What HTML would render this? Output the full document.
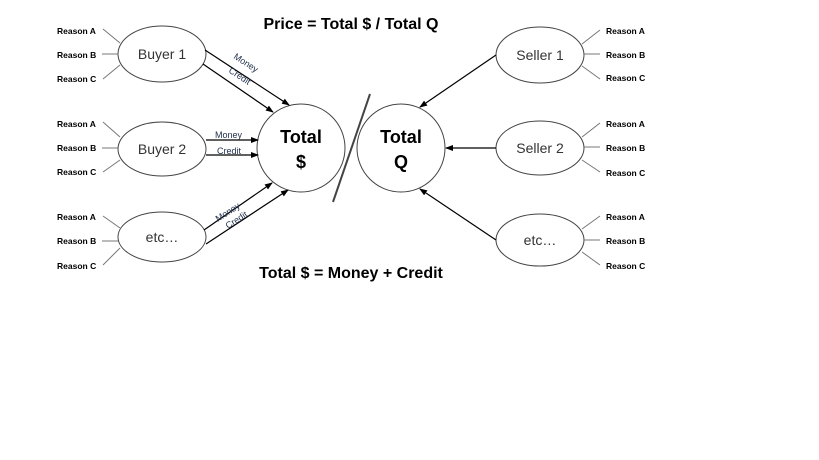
<!DOCTYPE html>
<html><head><meta charset="utf-8"><style>body{margin:0;background:#fff}svg{display:block}</style></head><body>
<svg width="819" height="460" xmlns="http://www.w3.org/2000/svg" font-family="Liberation Sans, sans-serif">
<defs><marker id="a" markerWidth="8" markerHeight="8" refX="7" refY="4" orient="auto" markerUnits="userSpaceOnUse"><path d="M0,1 L8,4 L0,7 z" fill="#000"/></marker></defs>
<rect width="819" height="460" fill="#fff"/>
<text x="351" y="29" font-size="16" font-weight="bold" text-anchor="middle">Price = Total $ / Total Q</text>
<text x="351" y="278" font-size="16" font-weight="bold" text-anchor="middle">Total $ = Money + Credit</text>
<g fill="none" stroke="#444" stroke-width="1">
<ellipse cx="162" cy="54" rx="44" ry="28"/><ellipse cx="162" cy="149" rx="44" ry="27"/><ellipse cx="162" cy="237" rx="44" ry="25"/>
<ellipse cx="540" cy="55" rx="44" ry="28"/><ellipse cx="540" cy="148" rx="44" ry="27"/><ellipse cx="540" cy="240" rx="44" ry="26"/>
<circle cx="301" cy="148" r="44"/><circle cx="401" cy="148" r="44"/>
</g>
<line x1="370" y1="94" x2="333" y2="202" stroke="#444" stroke-width="2"/>
<g stroke="#777" stroke-width="1">
<line x1="103" y1="29" x2="120" y2="43"/><line x1="102" y1="54" x2="118" y2="54"/><line x1="103" y1="79" x2="120" y2="65"/>
<line x1="103" y1="122" x2="120" y2="137"/><line x1="102" y1="148" x2="118" y2="148"/><line x1="103" y1="172" x2="120" y2="160"/>
<line x1="103" y1="216" x2="120" y2="228"/><line x1="102" y1="241" x2="118" y2="241"/><line x1="103" y1="265" x2="120" y2="248"/>
<line x1="600" y1="30" x2="582" y2="44"/><line x1="600" y1="54" x2="584" y2="54"/><line x1="600" y1="79" x2="582" y2="66"/>
<line x1="600" y1="123" x2="582" y2="137"/><line x1="600" y1="147" x2="584" y2="147"/><line x1="600" y1="172" x2="582" y2="160"/>
<line x1="600" y1="216" x2="582" y2="229"/><line x1="600" y1="240" x2="584" y2="240"/><line x1="600" y1="265" x2="582" y2="252"/>
</g>
<g stroke="#000" stroke-width="1.2" marker-end="url(#a)">
<line x1="205" y1="50" x2="289" y2="105"/><line x1="203" y1="64" x2="273" y2="112"/>
<line x1="206" y1="140" x2="258" y2="140"/><line x1="206" y1="155" x2="258" y2="155"/>
<line x1="204" y1="230" x2="272" y2="183"/><line x1="206" y1="244" x2="288" y2="190"/>
<line x1="496" y1="55" x2="420" y2="107"/><line x1="496" y1="148" x2="446" y2="148"/><line x1="496" y1="240" x2="420" y2="189"/>
</g>
<g font-size="9" fill="#1f2d4a">
<text transform="translate(233,58) rotate(33)">Money</text>
<text transform="translate(228,72) rotate(33)">Credit</text>
<text x="215" y="138">Money</text><text x="217" y="154">Credit</text>
<text transform="translate(218,222) rotate(-33)">Money</text>
<text transform="translate(228,229) rotate(-33)">Credit</text>
</g>
<g font-size="14" fill="#333" text-anchor="middle">
<text x="162" y="59">Buyer 1</text><text x="162" y="154">Buyer 2</text><text x="162" y="242">etc…</text>
<text x="540" y="60">Seller 1</text><text x="540" y="153">Seller 2</text><text x="540" y="245">etc…</text>
</g>
<g font-size="18" font-weight="bold" text-anchor="middle">
<text x="301" y="143">Total</text><text x="301" y="168">$</text>
<text x="401" y="143">Total</text><text x="401" y="168">Q</text>
</g>
<g font-size="8.5" font-weight="bold">
<text x="57" y="34">Reason A</text><text x="57" y="58">Reason B</text><text x="57" y="82">Reason C</text>
<text x="57" y="127">Reason A</text><text x="57" y="151">Reason B</text><text x="57" y="175">Reason C</text>
<text x="57" y="220">Reason A</text><text x="57" y="244">Reason B</text><text x="57" y="269">Reason C</text>
<text x="606" y="34">Reason A</text><text x="606" y="58">Reason B</text><text x="606" y="81">Reason C</text>
<text x="606" y="127">Reason A</text><text x="606" y="151">Reason B</text><text x="606" y="176">Reason C</text>
<text x="606" y="220">Reason A</text><text x="606" y="244">Reason B</text><text x="606" y="269">Reason C</text>
</g>
</svg>
</body></html>
